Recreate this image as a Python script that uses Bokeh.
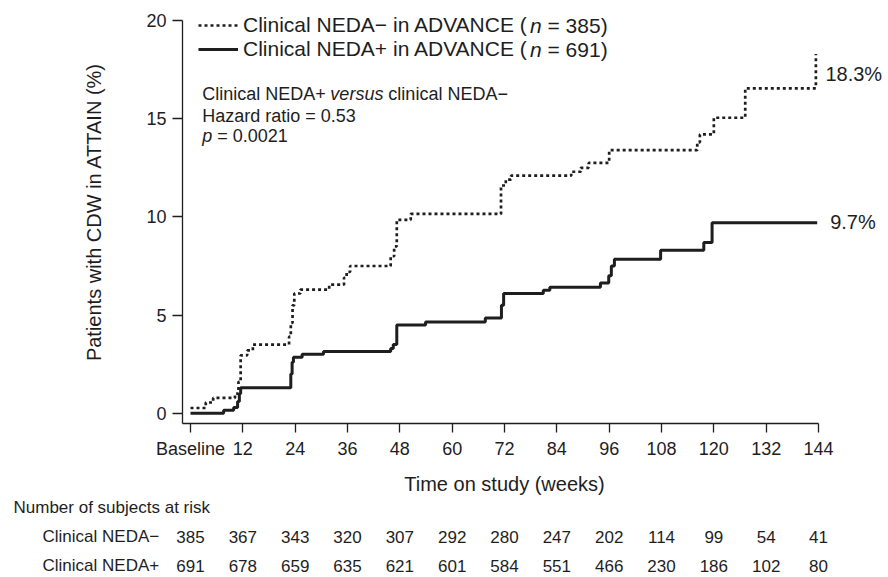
from bokeh.plotting import figure
from bokeh.models import Range1d, FixedTicker, Legend, LegendItem, Label
from bokeh.layouts import column
from bokeh.core.properties import value
from bokeh.embed import file_html
from bokeh.resources import INLINE

# ---------------- data ----------------
weeks = [0, 12, 24, 36, 48, 60, 72, 84, 96, 108, 120, 132, 144]
week_labels = {0: "Baseline"}
y_ticks = [0, 5, 10, 15, 20]

# Clinical NEDA- in ADVANCE (dotted) : cumulative % with CDW (step after)
neg_t = [0, 3.5, 5.2, 10.2, 11.0, 11.5, 13.0, 14.3, 22.6, 23.0, 23.4, 23.8, 25.2,
         31.8, 35.2, 35.8, 36.6, 45.9, 46.7, 47.3, 50.5, 71.2, 72.3, 73.5, 87.3,
         89.5, 91.3, 96.0, 116.2, 116.8, 120.0, 127.2, 143.4]
neg_y = [0.27, 0.55, 0.78, 1.0, 1.6, 2.95, 3.2, 3.5, 3.9, 4.6, 5.5, 6.1, 6.3,
         6.55, 6.9, 7.2, 7.5, 8.0, 8.5, 9.85, 10.15, 11.6, 11.9, 12.1, 12.3,
         12.5, 12.75, 13.4, 13.8, 14.2, 15.05, 16.55, 18.3]

# Clinical NEDA+ in ADVANCE (solid)
pos_t = [0, 7.6, 9.9, 10.8, 11.2, 11.5, 23.0, 23.3, 23.6, 25.6, 30.5, 45.9, 46.5,
         47.3, 53.9, 67.6, 71.3, 71.8, 80.9, 82.4, 94.0, 95.9, 96.5, 97.2, 107.8,
         117.7, 119.6, 143.7]
pos_y = [0, 0.15, 0.3, 0.6, 1.0, 1.3, 2.0, 2.6, 2.85, 3.0, 3.15, 3.3, 3.5,
         4.5, 4.65, 4.85, 5.5, 6.1, 6.27, 6.42, 6.63, 7.0, 7.5, 7.85, 8.3,
         8.7, 9.7, 9.7]

risk_neg = [385, 367, 343, 320, 307, 292, 280, 247, 202, 114, 99, 54, 41]
risk_pos = [691, 678, 659, 635, 621, 601, 584, 551, 466, 230, 186, 102, 80]

neg_name = "Clinical NEDA\u2212"
pos_name = "Clinical NEDA+"
neg_n = 385
pos_n = 691
hazard_ratio = "0.53"
p_value = "0.0021"
x_title = "Time on study (weeks)"
y_title = "Patients with CDW in ATTAIN (%)"
risk_title = "Number of subjects at risk"

# ---------------- style / layout ----------------
FONT = "Liberation Sans"
INK = "#1e1e1e"
W = 888
H_MAIN = 462
H_TAB = 115
L, B = 182, 39
PXW = 4.3611                      # pixels per week
X0 = -8 / PXW
X1 = X0 + (W - L) / PXW
Y0, Y1 = -0.52, 21.02
PXY = (H_MAIN - B) / (Y1 - Y0)    # pixels per percent
X_END, Y_END = weeks[-1], y_ticks[-1]

p = figure(width=W, height=H_MAIN, x_range=Range1d(X0, X1), y_range=Range1d(Y0, Y1),
           output_backend="svg", toolbar_location=None,
           min_border_left=L, min_border_right=0, min_border_top=0, min_border_bottom=B)
p.frame_align = False
p.outline_line_color = None
p.grid.visible = False
p.background_fill_color = "white"
p.border_fill_color = "white"

for ax in (p.xaxis, p.yaxis):
    ax.axis_line_color = INK
    ax.axis_line_width = 1.3
    ax.major_tick_line_color = INK
    ax.major_tick_line_width = 1.3
    ax.major_tick_in = 0
    ax.minor_tick_line_color = None
    ax.major_label_text_font = FONT
    ax.major_label_text_font_size = "18px"
    ax.major_label_text_color = INK
    ax.axis_label_text_font = FONT
    ax.axis_label_text_font_size = "20px"
    ax.axis_label_text_font_style = "normal"
    ax.axis_label_text_color = INK

p.xaxis.ticker = FixedTicker(ticks=weeks)
p.xaxis.bounds = (X0, X_END)
p.xaxis.major_label_overrides = week_labels
p.xaxis.major_tick_out = 9
p.xaxis.major_label_standoff = 6

p.yaxis.ticker = FixedTicker(ticks=y_ticks)
p.yaxis.bounds = (Y0, Y_END)
p.yaxis.major_tick_out = 10
p.yaxis.major_label_standoff = 6
p.yaxis.axis_label = y_title
p.yaxis.axis_label_standoff = 38

r_neg = p.step(neg_t, neg_y, mode="after", line_color=INK, line_width=2.7,
               line_dash="3 3")
r_pos = p.step(pos_t, pos_y, mode="after", line_color=INK, line_width=3)

# legend: glyphs + first part of the label; italic "n" and the rest as labels
legend = Legend(items=[
    LegendItem(label=f"{neg_name} in ADVANCE (", renderers=[r_neg]),
    LegendItem(label=f"{pos_name} in ADVANCE (", renderers=[r_pos]),
], location=(16, 362))
legend.padding = 0
legend.spacing = 0
legend.margin = 0
legend.glyph_width = 40
legend.glyph_height = 24
legend.label_height = 24
legend.label_standoff = 5
legend.label_text_font = FONT
legend.label_text_font_size = "21px"
legend.label_text_color = INK
legend.border_line_color = None
legend.background_fill_alpha = 0
p.add_layout(legend)

leg_txt = dict(text_font=FONT, text_font_size="21px", text_color=INK, text_baseline="middle")
leg_x = X0 + (16 + 40 + 5) / PXW      # where the legend text starts (in weeks)
for row, n in enumerate([neg_n, pos_n]):
    ly = Y1 - (25 + 24 * row) / PXY
    p.add_layout(Label(x=leg_x, y=ly, x_offset=286.5, text="n",
                       text_font_style="italic", **leg_txt))
    p.add_layout(Label(x=leg_x, y=ly, x_offset=304.0, text=f"= {n})", **leg_txt))

# Hazard ratio annotation
ann_x = 2.7
txt = dict(text_font=FONT, text_font_size="18px", text_color=INK, text_baseline="middle")
p.add_layout(Label(x=ann_x, y=16.26, text=f"{pos_name}", **txt))
p.add_layout(Label(x=ann_x, y=16.26, x_offset=128.1, text="versus", text_font_style="italic", **txt))
p.add_layout(Label(x=ann_x, y=16.26, x_offset=186.1, text="clinical NEDA\u2212", **txt))
p.add_layout(Label(x=ann_x, y=15.14, text=f"Hazard ratio = {hazard_ratio}", **txt))
p.add_layout(Label(x=ann_x, y=14.12, text="p", text_font_style="italic", **txt))
p.add_layout(Label(x=ann_x, y=14.12, x_offset=15, text=f"= {p_value}", **txt))

# end-of-curve labels
end_txt = dict(text_font=FONT, text_font_size="20px", text_color=INK, text_baseline="middle")
p.add_layout(Label(x=neg_t[-1], y=neg_y[-1], x_offset=9.5, y_offset=-20,
                   text=f"{neg_y[-1]:.1f}%", **end_txt))
p.add_layout(Label(x=pos_t[-1], y=pos_y[-1], x_offset=13, y_offset=1,
                   text=f"{pos_y[-1]:.1f}%", **end_txt))

# ---------------- x title + risk table (same week scale) ----------------
tx0 = X0 - L / PXW
tx1 = tx0 + W / PXW
row_px = 29.0
top_px = 45.0   # canvas y of the first table row
t = figure(width=W, height=H_TAB, x_range=Range1d(tx0, tx1),
           y_range=Range1d((H_TAB - top_px) / row_px, -top_px / row_px),
           output_backend="svg", toolbar_location=None,
           x_axis_type=None, y_axis_type=None,
           min_border=0, min_border_left=0, min_border_right=0,
           min_border_top=0, min_border_bottom=0)
t.frame_align = False
t.outline_line_color = None
t.background_fill_color = "white"
t.border_fill_color = "white"

t.text(x=[(weeks[0] + weeks[-1]) / 2], y=[-24 / row_px], text=[x_title],
       text_align="center", text_baseline="middle", text_font=value(FONT),
       text_font_size="20px", text_color=INK)

tab = dict(text_font=value(FONT), text_font_size="17px", text_color=INK, text_baseline="middle")
t.text(x=[tx0], y=[0], text=[risk_title], x_offset=13, text_align="left", **tab)
t.text(x=[tx0, tx0], y=[1, 2], text=[neg_name, pos_name], x_offset=42, text_align="left", **tab)
t.text(x=weeks, y=[1] * len(weeks), text=[str(v) for v in risk_neg], text_align="center", **tab)
t.text(x=weeks, y=[2] * len(weeks), text=[str(v) for v in risk_pos], text_align="center", **tab)

layout = column(p, t)
open("out.html", "w").write(file_html(layout, INLINE))
